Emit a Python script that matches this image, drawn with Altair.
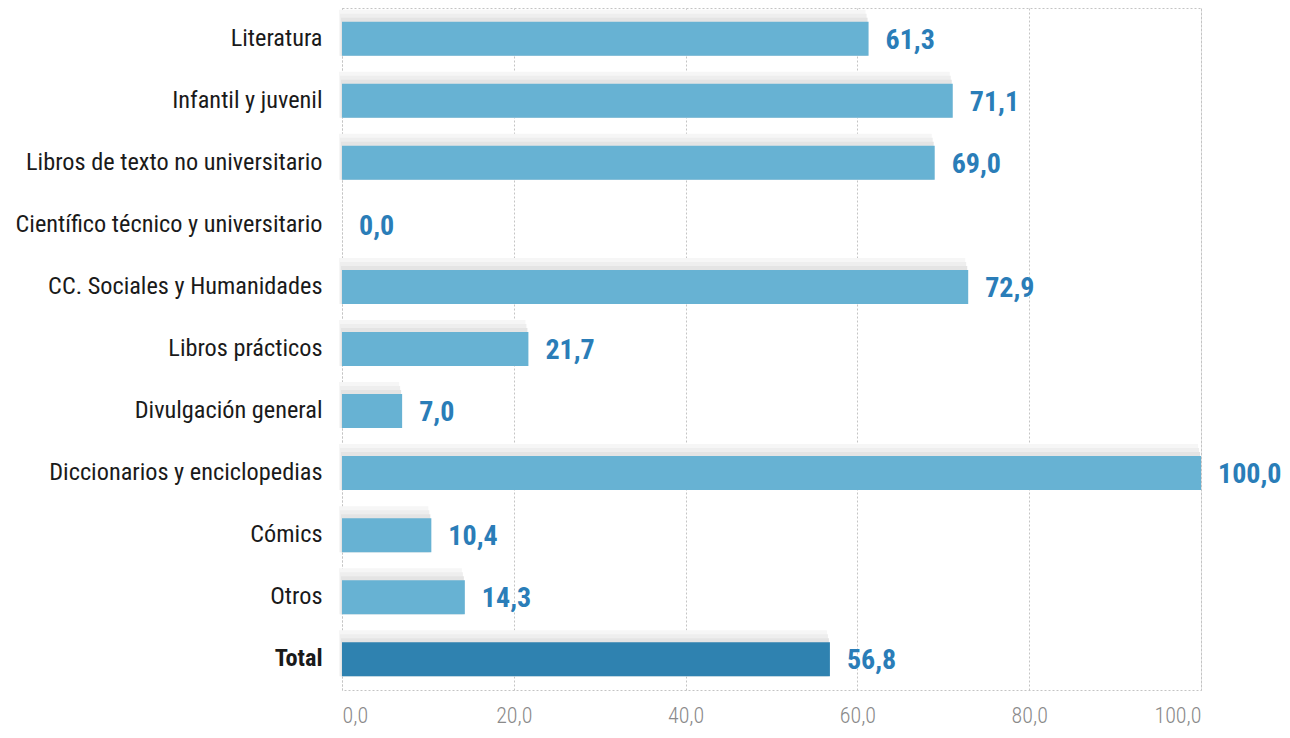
import altair as alt
import pandas as pd

categories = ["Literatura", "Infantil y juvenil", "Libros de texto no universitario",
              "Científico técnico y universitario", "CC. Sociales y Humanidades",
              "Libros prácticos", "Divulgación general", "Diccionarios y enciclopedias",
              "Cómics", "Otros", "Total"]
values = [61.3, 71.1, 69.0, 0.0, 72.9, 21.7, 7.0, 100.0, 10.4, 14.3, 56.8]
is_total = [False] * 10 + [True]
x_ticks = [0, 20, 40, 60, 80, 100]

df = pd.DataFrame({"cat": categories, "val": values, "total": is_total})

FONT = "Roboto Condensed, Liberation Sans Narrow, Arial Narrow, DejaVu Sans Condensed, Roboto"

W, H = 859, 682

y_enc = alt.Y("cat:N", sort=categories,
              scale=alt.Scale(paddingInner=0.45, paddingOuter=0.22),
              axis=alt.Axis(title=None, ticks=False, domain=False, labelPadding=20,
                            labelFontSize=24.3, labelFont=FONT, labelColor="#1a1a1a",
                            labelLimit=400,
                            labelFontWeight=alt.expr("datum.value == 'Total' ? 'bold' : 'normal'")))
x_scale = alt.Scale(domain=[0, 100], nice=False)

base = alt.Chart(df)

shadow1 = base.mark_bar(color="#f6f6f6", height=46, yOffset=-6, xOffset=-3).encode(
    x=alt.X("val:Q", scale=x_scale), y=y_enc)
shadow2 = base.mark_bar(color="#eeeeee", height=42, yOffset=-4, xOffset=-2).encode(
    x=alt.X("val:Q", scale=x_scale), y=y_enc)
shadow3 = base.mark_bar(color="#e4e4e4", height=38, yOffset=-2, xOffset=-1).encode(
    x=alt.X("val:Q", scale=x_scale), y=y_enc)

bars = base.mark_bar(height=34).encode(
    x=alt.X("val:Q", scale=x_scale,
            axis=alt.Axis(title=None, values=x_ticks, ticks=False, domain=False,
                          grid=True, gridColor="#c4c4c4", gridDash=[2, 2], gridWidth=1,
                          labelPadding=15, labelFontSize=22, labelFont=FONT,
                          labelFontWeight=300, labelColor="#8a8a8a",
                          labelExpr="replace(format(datum.value, '.1f'), '.', ',')")),
    y=y_enc,
    color=alt.Color("total:N", scale=alt.Scale(domain=[False, True], range=["#67b2d3", "#2f82b0"]),
                    legend=None),
)

labels = base.transform_calculate(
    lab="replace(format(datum.val, '.1f'), '.', ',')"
).mark_text(align="left", baseline="middle", dx=17, dy=2, fontSize=28, fontWeight="bold",
            font=FONT, color="#2a7db8").encode(
    x=alt.X("val:Q", scale=x_scale), y=y_enc, text="lab:N")

chart = alt.layer(shadow1, shadow2, shadow3, bars, labels).properties(
    width=W, height=H,
    autosize=alt.AutoSizeParams(type="none"),
    padding={"left": 334, "top": 0, "right": 80, "bottom": 40},
).configure_view(stroke="#c4c4c4", strokeDash=[2, 2], strokeWidth=1)

chart.save("out.html", embed_options={"renderer": "svg", "actions": False})
